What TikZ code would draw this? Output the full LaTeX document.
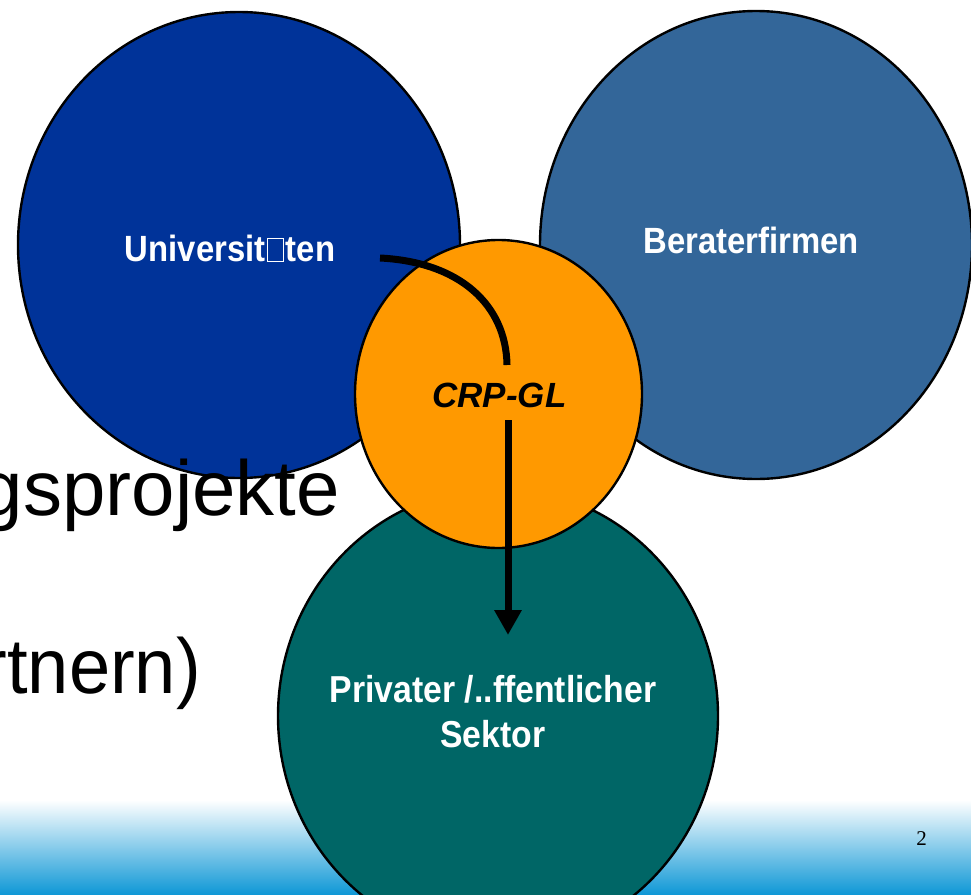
\documentclass[tikz,border=0pt]{standalone}
\usepackage{fontspec}
\setmainfont{Liberation Sans}
\newfontfamily\tagfont[FakeStretch=0.9]{Liberation Sans Bold}
\newfontfamily\slimfont[FakeStretch=0.95]{Liberation Sans}
\newfontfamily\crpfont{Liberation Sans Bold Italic}
\newfontfamily\pagefont{Liberation Serif}
\usetikzlibrary{arrows.meta}
\definecolor{unicolor}{RGB}{0,51,153}
\definecolor{beracolor}{RGB}{51,102,153}
\definecolor{crpcolor}{RGB}{255,153,0}
\definecolor{sekcolor}{RGB}{0,102,102}
\definecolor{footblue}{RGB}{16,152,214}
% the box that stands for the lost glyph
\newcommand{\lostglyph}{{\color{white}\setlength{\fboxsep}{0pt}\setlength{\fboxrule}{0.7pt}\hspace{0.05em}\fbox{\rule{0pt}{0.62em}\hspace{0.42em}}\hspace{0.05em}}}
\begin{document}
\begin{tikzpicture}[x=1pt, y=-1pt,
    bubble/.style={draw=black, line width=2.4pt},
    tag/.style={text=white, font=\tagfont\fontsize{36.5}{45}\selectfont, align=center, inner sep=0pt, anchor=base},
    bigline/.style={font=\fontsize{78}{90}\selectfont, inner sep=0pt, anchor=base east},
    flow/.style={line width=7pt}]
    \useasboundingbox (0,0) rectangle (971,894);
    % footer
    \shade[top color=white, bottom color=footblue] (0,800) rectangle (971,894);
    \node[font=\pagefont\fontsize{21}{24}\selectfont, inner sep=0pt, anchor=base] (page) at (921.5,845) {2};
    % circles
    \draw[bubble, fill=unicolor] (239,245) ellipse [x radius=221, y radius=233];
    \draw[bubble, fill=beracolor] (756,245) ellipse [x radius=216, y radius=234];
    \draw[bubble, fill=sekcolor] (498,716) ellipse [x radius=220, y radius=228];
    % slide text behind
    \node[bigline] (projekte) at (340,515) {gsprojekte};
    \node[bigline, font=\slimfont\fontsize{78}{90}\selectfont] (partner) at (201,693) {rtnern)};
    \draw[bubble, fill=crpcolor] (498.5,394) ellipse [x radius=143.5, y radius=154];
    % labels
    \node[tag] (uni) at (230,261) {Universit\lostglyph ten};
    \node[tag] (bera) at (751,253) {Beraterfirmen};
    \node[font=\crpfont\fontsize{35}{40}\selectfont, inner sep=0pt, anchor=base] (crp) at (499.5,407) {CRP-GL};
    \node[tag, font=\tagfont\fontsize{37.5}{45}\selectfont] (sektor) at (493,747) {Privater /..ffentlicher\\Sektor};
    % connectors
    \coordinate (unistart) at (380,258);
    \coordinate (crpin) at (507,365);
    \coordinate (crpout) at (508,420);
    \coordinate (sekin) at (508,635);
    \draw[flow] (unistart) .. controls (460,262) and (506,305) .. (crpin);
    \draw[flow, -{Triangle[width=26pt, length=25pt]}] (crpout) -- (sekin);
\end{tikzpicture}
\end{document}
